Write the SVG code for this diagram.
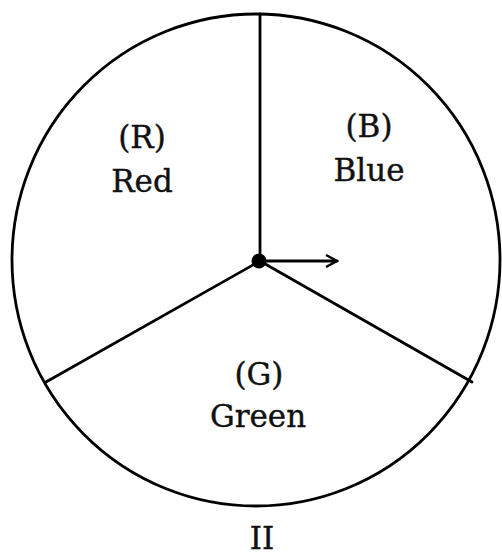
<svg xmlns="http://www.w3.org/2000/svg" width="502" height="559" viewBox="0 0 502 559">
<style>
.l{stroke:#000;stroke-width:2.8;fill:none;stroke-linecap:round}
text{font-family:"DejaVu Serif","Liberation Serif",serif;font-size:31px;fill:#111;text-anchor:middle;stroke:#111;stroke-width:0.4}
</style>
<defs>
<marker id="ah" markerWidth="14" markerHeight="14" refX="12" refY="7" orient="auto" markerUnits="userSpaceOnUse">
<path d="M1,1 L12,7 L1,13" fill="none" stroke="#000" stroke-width="2.4"/>
</marker>
</defs>
<rect width="502" height="559" fill="#fff"/>
<g id="wheel">
<ellipse class="l" cx="256" cy="260" rx="244" ry="246"/>
</g>
<g id="connectors">
<line class="l" x1="260" y1="14" x2="260" y2="261"/>
<line class="l" x1="260" y1="261" x2="46" y2="382"/>
<line class="l" x1="260" y1="261" x2="472" y2="382"/>
<line class="l" x1="260" y1="261" x2="337" y2="261" marker-end="url(#ah)"/>
</g>
<g id="center"><circle cx="259" cy="261" r="7.5" fill="#000"/></g>
<g id="red"><text x="142" y="148">(R)</text><text x="142" y="192">Red</text></g>
<g id="blue"><text x="369" y="137">(B)</text><text x="369" y="181">Blue</text></g>
<g id="green"><text x="259" y="385">(G)</text><text x="258" y="427">Green</text></g>
<g id="label"><text x="262" y="549">II</text></g>
</svg>
